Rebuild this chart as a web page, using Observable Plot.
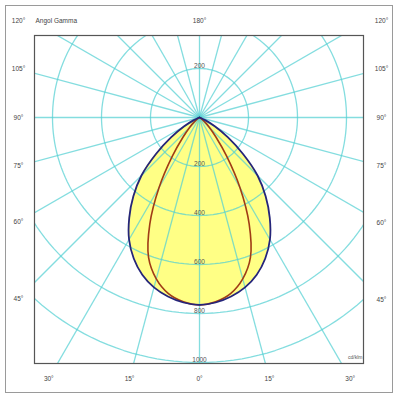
<!DOCTYPE html>
<html><head><meta charset="utf-8">
<script src="https://cdn.jsdelivr.net/npm/d3@7"></script>
<script src="https://cdn.jsdelivr.net/npm/@observablehq/plot@0.6"></script>
<style>
body{margin:0;background:#fff;}
#wrap{position:relative;width:400px;height:400px;}
#border{position:absolute;left:5px;top:5px;width:388px;height:388px;border:1.5px solid #9a9a9a;box-sizing:border-box;pointer-events:none;}
#wrap svg{position:absolute;left:0;top:0;}
</style></head><body><div id="wrap"><div id="border"></div></div>
<script>
// ---- data (cd/klm) ----
const gammaAngles = [0,5,10,15,20,25,30,35,40,45,50,55,60,65,70,75,80,85,90];
const c0c180Values = [765,758,742,718,683,635,575,500,420,335,232,142,72,28,6,0,0,0,0];
const c90c270Values = [765,755,730,682,608,480,330,195,105,55,28,10,2,0,0,0,0,0,0];
const ringValues = [200,400,600,800,1000];
const ringLabels = ["200","400","600","800","1000"];
const sideAngleLabels = [45,60,75,90,105,120];
const bottomAngleLabels = [-30,-15,0,15,30];
const topAngleLabel = "180°";
const cornerTitle = "Angol Gamma";
const unitLabel = "cd/klm";

// ---- layout ----
const W = 400, H = 400;
const cx = 199, cy = 117, k = 0.245; // centre pixel, px per cd
const mL = 34, mT = 35, mR = 37, mB = 37;
const toX = px => (px - cx) / k, toY = py => (cy - py) / k;
const rad = d => d * Math.PI / 180;
const colRight = toX(381), colLeft = toX(18), rowTop = toY(20), rowBottom = toY(378);

const gridColor = "#55d0d2";

// curve rows
function curveRows(values){
  const rows = [];
  for (let i = gammaAngles.length - 1; i >= 0; i--) rows.push({X: values[i]*Math.sin(rad(gammaAngles[i])), Y: -values[i]*Math.cos(rad(gammaAngles[i]))});
  for (let i = 1; i < gammaAngles.length; i++) rows.push({X: -values[i]*Math.sin(rad(gammaAngles[i])), Y: -values[i]*Math.cos(rad(gammaAngles[i]))});
  return rows;
}
const fillRows = gammaAngles.map((g,i) => ({Y: -c0c180Values[i]*Math.cos(rad(g)), X: c0c180Values[i]*Math.sin(rad(g))}));

const ringRows = [];
for (const r of ringValues) for (let a = 0; a <= 360; a += 2) ringRows.push({ring: r, X: r*Math.sin(rad(a)), Y: -r*Math.cos(rad(a))});
const spokeAngles = d3.range(0, 360, 15);

const ringLabelRows = ringValues.map((v,i) => ({X: 0, Y: -v, t: ringLabels[i]})).concat([{X: 0, Y: ringValues[0], t: ringLabels[0]}]);

const angleLabelRows = [];
for (const a of sideAngleLabels) {
  for (const col of [colLeft, colRight]) {
    let Y = -Math.abs(col) * Math.cos(rad(a)) / Math.sin(rad(a));
    Y = Math.min(Y, rowTop);
    angleLabelRows.push({X: col, Y, t: a + "°"});
  }
}
for (const a of bottomAngleLabels) angleLabelRows.push({X: -rowBottom*Math.tan(rad(a)), Y: rowBottom, t: Math.abs(a) + "°"});
angleLabelRows.push({X: 0, Y: rowTop, t: topAngleLabel});

const plot = Plot.plot({
  width: W, height: H,
  marginLeft: mL, marginTop: mT, marginRight: mR, marginBottom: mB,
  x: {domain: [toX(mL), toX(W - mR)], axis: null},
  y: {domain: [toY(H - mB), toY(mT)], axis: null},
  style: {fontFamily: "Liberation Sans, Arial, sans-serif", background: "transparent"},
  marks: [
    Plot.areaX(fillRows, {y: "Y", x1: d => -d.X, x2: "X", fill: "#ffff85", curve: "catmull-rom"}),
    Plot.link(spokeAngles, {x1: 0, y1: 0, x2: a => 3000*Math.sin(rad(a)), y2: a => -3000*Math.cos(rad(a)), stroke: gridColor, strokeWidth: 1.3, strokeOpacity: 0.72, clip: true}),
    Plot.line(ringRows, {x: "X", y: "Y", z: "ring", stroke: gridColor, strokeWidth: 1.3, strokeOpacity: 0.72, clip: true}),
    Plot.text(ringLabelRows, {x: "X", y: "Y", text: "t", dy: -3, fontSize: 6.5, fill: "#555"}),
    Plot.line(curveRows(c90c270Values), {x: "X", y: "Y", stroke: "#a03c16", strokeWidth: 1.6, curve: "catmull-rom"}),
    Plot.line(curveRows(c0c180Values), {x: "X", y: "Y", stroke: "#25257a", strokeWidth: 1.8, curve: "catmull-rom"}),
    Plot.frame({stroke: "#555", strokeWidth: 1.2}),
    Plot.text(angleLabelRows, {x: "X", y: "Y", text: "t", fontSize: 6.5, fill: "#444"}),
    Plot.text([cornerTitle], {x: toX(35), y: rowTop, text: d => d, textAnchor: "start", fontSize: 6.5, fill: "#444"}),
    Plot.text([unitLabel], {x: toX(362), y: toY(357), text: d => d, textAnchor: "end", fontSize: 5, fill: "#555"})
  ]
});
document.getElementById("wrap").appendChild(plot);
</script>
</body></html>
